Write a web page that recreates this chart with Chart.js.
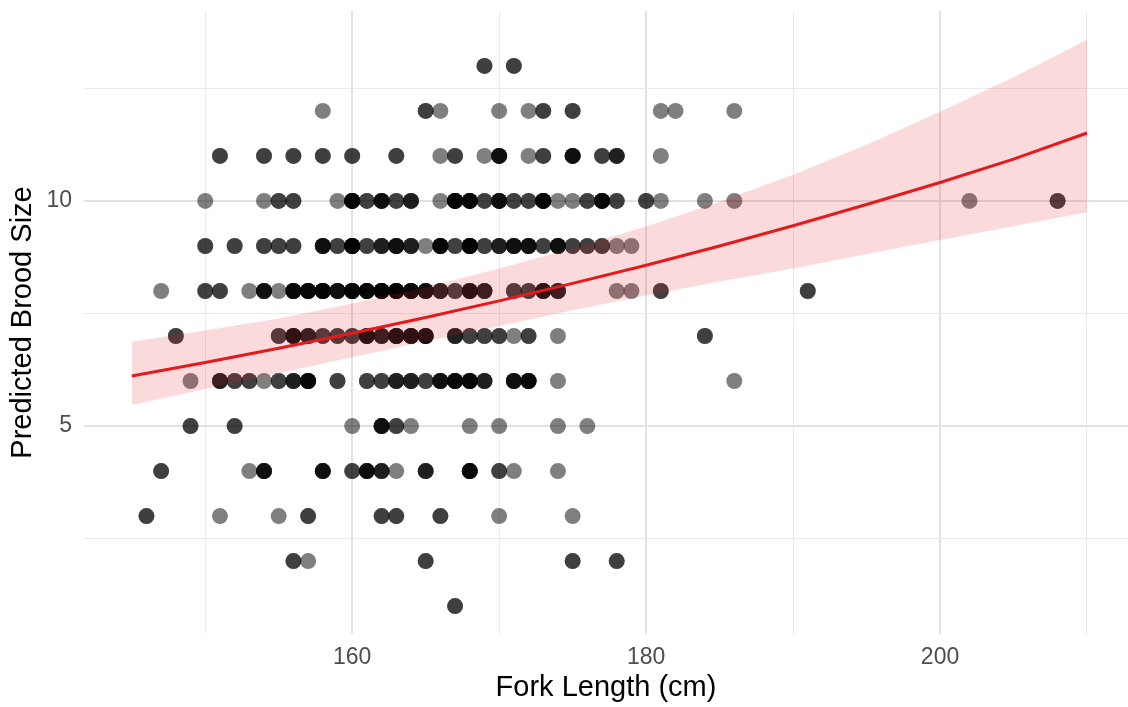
<!DOCTYPE html>
<html>
<head>
<meta charset="utf-8">
<script src="https://cdn.jsdelivr.net/npm/chart.js@4.4.0/dist/chart.umd.min.js"></script>
<style>
  html, body { margin: 0; padding: 0; background: #fff; overflow: hidden; }
  #wrap { width: 1128px; height: 707px; }
</style>
</head>
<body>
<div id="wrap"><canvas id="brood" width="1128" height="707"></canvas></div>
<script>
// fork lengths (cm) observed at each brood size; repeats = overlapping points
var brood1 = [167, 167];
var brood2 = [156, 156, 157, 165, 165, 175, 175, 178, 178];
var brood3 = [146, 146, 151, 155, 157, 157, 162, 162, 163, 163, 166, 166, 170, 175];
var brood4 = [147, 147, 153, 154, 154, 154, 154, 158, 158, 158, 158, 160, 160, 161, 161, 161, 161,
  162, 162, 162, 163, 165, 165, 165, 168, 168, 168, 168, 168, 170, 170, 171, 174];
var brood5 = [149, 149, 152, 152, 160, 162, 162, 162, 162, 163, 163, 164, 168, 170, 174, 176];
var brood6 = [149, 151, 151, 151, 152, 152, 153, 153, 154, 155, 155, 156, 156, 156, 157, 157, 157, 157, 157,
  159, 159, 161, 161, 162, 162, 163, 163, 163, 164, 164, 164, 165, 165, 166, 166, 166, 166,
  167, 167, 167, 167, 167, 168, 168, 168, 168, 168, 169, 169, 169, 171, 171, 171, 171,
  172, 172, 172, 172, 172, 174, 186];
var brood7 = [148, 148, 155, 155, 156, 156, 156, 156, 157, 157, 157, 158, 158, 159, 159, 160, 160,
  161, 161, 161, 161, 162, 162, 162, 163, 163, 163, 163, 164, 164, 164, 164, 165, 165, 165, 165,
  167, 167, 167, 168, 168, 169, 169, 170, 170, 171, 172, 172, 174, 184, 184];
var brood8 = [147, 150, 150, 151, 151, 153, 154, 154, 154, 154, 155, 156, 156, 156, 156, 156,
  157, 157, 157, 157, 157, 158, 158, 158, 158, 158, 158, 159, 159, 159, 159, 160, 160, 160, 160, 160, 160,
  161, 161, 161, 161, 161, 162, 162, 162, 162, 162, 162, 163, 163, 163, 163, 163, 163,
  164, 164, 164, 164, 164, 165, 165, 165, 165, 166, 166, 166, 167, 167, 168, 168, 168, 168,
  169, 169, 169, 171, 171, 172, 172, 173, 173, 173, 173, 174, 174, 174, 178, 179, 181, 181, 191, 191];
var brood9 = [150, 150, 152, 152, 154, 154, 155, 155, 156, 156, 158, 158, 158, 158, 159, 159,
  160, 160, 160, 160, 160, 160, 161, 161, 162, 162, 162, 163, 163, 163, 163, 164, 164, 164, 165,
  166, 166, 166, 166, 166, 167, 167, 168, 168, 168, 168, 168, 168, 169, 169, 170, 170, 170,
  171, 171, 171, 171, 172, 172, 172, 172, 173, 173, 174, 174, 174, 174, 175, 175, 176, 176,
  177, 177, 178, 179];
var brood10 = [150, 154, 155, 155, 156, 156, 159, 160, 160, 160, 160, 160, 160, 161, 161,
  162, 162, 162, 162, 163, 163, 164, 164, 164, 166, 167, 167, 167, 167, 167, 167,
  168, 168, 168, 168, 168, 169, 169, 170, 170, 170, 170, 171, 171, 172, 172,
  173, 173, 173, 173, 173, 173, 174, 175, 176, 176, 177, 177, 177, 177, 177, 178, 178,
  180, 180, 181, 184, 186, 202, 208, 208];
var brood11 = [151, 151, 154, 154, 156, 156, 158, 158, 160, 160, 163, 163, 166, 167, 167, 169,
  170, 170, 170, 170, 172, 173, 173, 175, 175, 175, 175, 177, 177, 178, 178, 178, 181];
var brood12 = [158, 165, 165, 166, 170, 172, 173, 173, 175, 175, 181, 182, 186];
var brood13 = [169, 169, 171, 171];

// fitted curve and its confidence band
var fitX    = [145, 150, 155, 160, 165, 170, 175, 180, 185, 190, 195, 200, 205, 210];
var fitY    = [6.11, 6.41, 6.73, 7.06, 7.41, 7.78, 8.17, 8.57, 9.00, 9.45, 9.92, 10.41, 10.93, 11.51];
var fitLow  = [5.47, 5.82, 6.17, 6.53, 6.88, 7.22, 7.57, 7.90, 8.21, 8.50, 8.82, 9.13, 9.44, 9.75];
var fitHigh = [6.87, 7.12, 7.39, 7.72, 8.08, 8.50, 8.95, 9.43, 9.98, 10.58, 11.25, 11.98, 12.75, 13.58];

var xTicks = [150, 160, 170, 180, 190, 200, 210];
var xLabels = [160, 180, 200];
var yTicks = [2.5, 5, 7.5, 10, 12.5];
var yLabels = [5, 10];

var rows = [brood1, brood2, brood3, brood4, brood5, brood6, brood7, brood8, brood9, brood10, brood11, brood12, brood13];
var points = [];
rows.forEach(function(arr, i) {
  arr.forEach(function(x) { points.push({x: x, y: i + 1}); });
});

function xy(ys) {
  return fitX.map(function(x, i) { return {x: x, y: ys[i]}; });
}

// no extra room for tick label overhang, keep plot panel where it is
function noOverhang(s) {
  s.paddingTop = 0; s.paddingBottom = 0; s.paddingLeft = 0; s.paddingRight = 0;
}

Chart.defaults.font.family = "'Liberation Sans', Arial, sans-serif";

var ctx = document.getElementById('brood');
new Chart(ctx, {
  type: 'scatter',
  data: {
    datasets: [
      {
        data: xy(fitY), showLine: true, borderColor: '#e41a1c', borderWidth: 3,
        pointRadius: 0, fill: false, tension: 0, order: 0
      },
      {
        data: xy(fitHigh), showLine: true, borderColor: 'rgba(0,0,0,0)', borderWidth: 0,
        pointRadius: 0, backgroundColor: 'rgba(228,26,28,0.16)', fill: '+1', order: 1
      },
      {
        data: xy(fitLow), showLine: true, borderColor: 'rgba(0,0,0,0)', borderWidth: 0,
        pointRadius: 0, fill: false, order: 1
      },
      {
        data: points, pointRadius: 8, pointHoverRadius: 8,
        pointBackgroundColor: 'rgba(0,0,0,0.5)', pointBorderWidth: 0, order: 2
      }
    ]
  },
  options: {
    responsive: false,
    animation: false,
    devicePixelRatio: 1,
    layout: { autoPadding: false, padding: { top: 11, right: 0, bottom: 0, left: 0 } },
    plugins: { legend: { display: false }, tooltip: { enabled: false } },
    scales: {
      x: {
        type: 'linear', min: 141.75, max: 212.79,
        afterBuildTicks: function(s) { s.ticks = xTicks.map(function(v) { return {value: v}; }); },
        afterFit: function(s) { s.height = 73; noOverhang(s); },
        border: { display: false },
        grid: {
          drawTicks: false,
          color: function(c) { return xLabels.indexOf(c.tick.value) >= 0 ? '#e2e2e2' : '#ebebeb'; },
          lineWidth: function(c) { return xLabels.indexOf(c.tick.value) >= 0 ? 2 : 1; }
        },
        ticks: {
          color: '#4d4d4d', font: { size: 23 }, padding: 10, maxRotation: 0,
          callback: function(v) { return xLabels.indexOf(v) >= 0 ? String(v) : ''; }
        },
        title: {
          display: true, text: 'Fork Length (cm)', color: '#000',
          font: { size: 29 }, padding: { top: 0, bottom: 2 }
        }
      },
      y: {
        type: 'linear', min: 0.38, max: 14.22,
        afterBuildTicks: function(s) { s.ticks = yTicks.map(function(v) { return {value: v}; }); },
        afterFit: function(s) { s.width = 84; noOverhang(s); },
        border: { display: false },
        grid: {
          drawTicks: false,
          color: function(c) { return yLabels.indexOf(c.tick.value) >= 0 ? '#e2e2e2' : '#ebebeb'; },
          lineWidth: function(c) { return yLabels.indexOf(c.tick.value) >= 0 ? 2 : 1; }
        },
        ticks: {
          color: '#4d4d4d', font: { size: 23 }, padding: 12,
          callback: function(v) { return yLabels.indexOf(v) >= 0 ? String(v) : ''; }
        },
        title: {
          display: true, text: 'Predicted Brood Size', color: '#000',
          font: { size: 29 }, padding: { top: 6, bottom: 0 }
        }
      }
    }
  }
});
</script>
</body>
</html>
